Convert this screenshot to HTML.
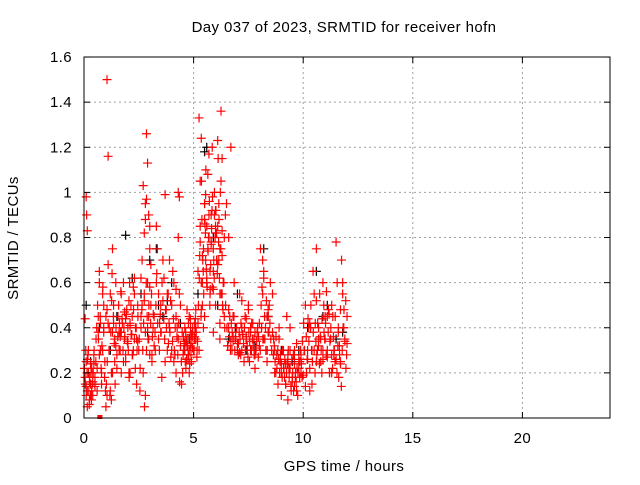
<!DOCTYPE html>
<html><head><meta charset="utf-8"><style>
body{margin:0;background:#fff}
svg text{font-family:"Liberation Sans",sans-serif;font-size:15px;letter-spacing:0.4px;fill:#000}
</style></head><body>
<svg id="chart" width="640" height="480" xmlns="http://www.w3.org/2000/svg">
<rect width="640" height="480" fill="#fff"/>
<g id="grid"></g>
<g id="pts"></g>
<rect x="84" y="57" width="526" height="361" fill="none" stroke="#000" stroke-width="1"/>
<g id="ticks"></g>
<text x="344" y="32" text-anchor="middle">Day 037 of 2023, SRMTID for receiver hofn</text>
<text x="344" y="471" text-anchor="middle">GPS time / hours</text>
<text transform="translate(18,238) rotate(-90)" text-anchor="middle">SRMTID / TECUs</text>
</svg>
<script>
const xTicks=[0,5,10,15,20];
const yTicks=[0,0.2,0.4,0.6,0.8,1,1.2,1.4,1.6];
const yTickLabels=["0","0.2","0.4","0.6","0.8","1","1.2","1.4","1.6"];
const redTimes=[0.05,0.1,0.12,0.15,0.2,0.25,0.3,0.35,0.4,0.45,0.5,0.1,0.2,0.3,0.4,0.15,0.25,0.35,0.45,0.05,0.1,0.15,0.55,0.6,0.65,0.7,0.75,0.8,0.85,0.9,0.95,0.6,0.7,0.8,0.9,0.65,0.75,0.85,
1.0,1.05,1.1,1.15,1.2,1.25,1.3,1.35,1.4,1.45,1.05,1.05,1.1,1.2,1.3,1.4,1.0,1.15,1.25,1.35,1.45,1.5,1.55,1.6,1.65,1.7,1.75,1.8,1.85,1.9,1.95,2.0,2.05,2.1,2.15,2.2,2.25,2.3,2.35,2.4,2.45,1.6,1.7,1.8,1.9,2.0,2.1,2.2,2.3,2.4,1.65,1.85,2.05,2.25,2.45,
2.5,2.55,2.6,2.65,2.7,2.75,2.8,2.85,2.9,2.95,3.0,3.05,3.1,3.15,2.6,2.7,2.8,2.85,2.9,2.95,3.0,2.75,2.85,2.95,3.05,2.8,2.9,3.0,3.1,2.65,2.75,
3.2,3.3,3.4,3.5,3.6,3.7,3.8,3.9,4.0,4.1,4.2,4.3,4.4,4.5,3.25,3.35,3.45,3.55,3.65,3.75,3.85,3.95,4.05,4.15,4.25,4.35,4.45,3.3,3.5,3.7,3.9,4.1,4.3,4.3,4.35,4.2,
4.55,4.6,4.65,4.7,4.75,4.8,4.85,4.9,4.95,5.0,5.05,5.1,5.15,4.6,4.7,4.8,4.9,5.0,5.1,4.65,4.75,4.85,4.95,5.05,
5.2,5.25,5.3,5.35,5.4,5.45,5.5,5.55,5.6,5.65,5.7,5.75,5.8,5.85,5.9,5.95,6.0,6.05,6.1,6.15,6.2,6.25,6.3,6.35,6.4,6.45,5.3,5.4,5.5,5.6,5.7,5.8,5.9,6.0,6.1,6.2,6.3,5.35,5.45,5.55,5.65,5.75,5.85,5.95,6.05,6.15,6.25,5.4,5.6,5.8,6.0,6.2,5.5,5.9,6.3,6.2,5.25,5.35,
6.5,6.6,6.7,6.8,6.9,7.0,7.1,7.2,7.3,7.4,7.5,7.6,7.7,7.8,7.9,6.55,6.65,6.75,6.85,6.95,7.05,7.15,7.25,7.35,7.45,7.55,7.65,7.75,7.85,7.95,6.6,6.8,7.0,7.2,7.4,7.6,7.8,6.7,7.1,7.5,
8.0,8.1,8.2,8.3,8.4,8.5,8.05,8.15,8.25,8.35,8.45,8.1,8.2,8.3,8.4,8.15,8.35,
8.6,8.7,8.8,8.9,9.0,9.1,9.2,9.3,9.4,9.5,9.6,9.7,9.8,9.9,8.65,8.75,8.85,8.95,9.05,9.15,9.25,9.35,9.45,9.55,9.65,9.75,9.85,9.95,8.7,8.9,9.1,9.3,9.5,9.7,9.9,9.2,9.6,9.4,
10.0,10.1,10.2,10.3,10.4,10.5,10.6,10.7,10.8,10.9,11.0,11.1,11.2,11.3,11.4,11.5,11.6,11.7,11.8,11.9,12.0,10.05,10.15,10.25,10.35,10.45,10.55,10.65,10.75,10.85,10.95,11.05,11.15,11.25,11.35,11.45,11.55,11.65,11.75,11.85,11.95,10.2,10.4,10.6,10.8,11.0,11.2,11.4,11.6,11.8,12.0,10.3,10.6,10.9,11.3,11.7,10.7,11.1];
const redValues=[0.18,0.25,0.9,0.12,0.2,0.08,0.15,0.22,0.1,0.28,0.18,0.14,0.3,0.1,0.2,0.05,0.16,0.12,0.24,0.44,0.98,0.83,0.35,0.12,0.45,0.6,0.3,0.2,0.55,0.4,0.25,0.22,0.65,0.15,0.5,0.38,0.42,0.3,
0.05,1.5,1.16,0.3,0.55,0.2,0.75,0.42,0.35,0.6,0.1,0.48,0.68,0.12,0.38,0.25,0.45,0.4,0.08,0.5,0.32,0.22,0.45,0.38,0.3,0.55,0.42,0.6,0.35,0.28,0.48,0.4,0.52,0.2,0.37,0.45,0.3,0.62,0.4,0.15,0.5,0.3,0.38,0.25,0.44,0.33,0.41,0.28,0.55,0.35,0.36,0.47,0.2,0.58,0.34,
0.3,0.12,0.45,0.7,0.2,0.55,0.95,1.26,0.6,0.35,0.85,0.5,0.25,0.4,0.62,1.03,0.88,0.97,1.13,0.45,0.75,0.52,0.3,0.9,0.68,0.1,0.4,0.58,0.28,0.5,0.82,
0.45,0.6,0.35,0.5,0.7,0.25,0.55,0.4,0.3,0.6,0.45,0.35,0.5,0.2,0.3,0.75,0.42,0.18,0.62,0.48,0.33,0.52,0.65,0.28,0.4,0.55,0.15,0.85,0.38,0.99,0.7,0.25,0.8,1.0,0.98,0.57,
0.3,0.4,0.22,0.35,0.28,0.45,0.32,0.25,0.38,0.3,0.42,0.35,0.27,0.33,0.48,0.2,0.37,0.3,0.4,0.34,0.26,0.44,0.31,0.36,
0.65,1.33,0.85,1.24,0.5,0.75,0.95,0.7,0.6,1.08,0.8,0.55,0.9,1.2,0.65,1.0,0.85,0.7,1.23,0.95,0.75,1.36,1.15,0.6,0.8,0.9,1.05,0.72,0.88,0.62,1.17,0.78,0.57,0.92,0.68,0.55,0.83,0.48,0.4,0.99,0.75,0.65,0.58,0.9,0.82,0.7,1.05,0.6,0.85,0.77,0.5,0.35,0.45,0.38,0.55,0.42,0.3,0.6,0.95,0.8,1.2,
0.45,0.35,0.3,0.55,0.4,0.25,0.35,0.5,0.3,0.42,0.28,0.38,0.32,0.45,0.3,0.6,0.4,0.33,0.28,0.37,0.45,0.3,0.25,0.42,0.35,0.31,0.27,0.4,0.36,0.3,0.52,0.44,0.38,0.22,0.34,0.29,0.48,0.32,0.4,0.35,
0.3,0.45,0.6,0.75,0.55,0.35,0.25,0.5,0.4,0.65,0.3,0.38,0.7,0.45,0.55,0.2,0.28,
0.35,0.2,0.3,0.15,0.25,0.4,0.18,0.3,0.12,0.22,0.28,0.35,0.2,0.15,0.25,0.3,0.18,0.45,0.22,0.12,0.28,0.2,0.1,0.25,0.18,0.3,0.4,0.22,0.28,0.16,0.33,0.2,0.24,0.14,0.3,0.19,0.14,0.26,0.12,
0.3,0.55,0.75,0.4,0.25,0.6,0.35,0.45,0.2,0.5,0.3,0.78,0.4,0.25,0.55,0.35,0.45,0.3,0.2,0.4,0.5,0.65,0.42,0.3,0.55,0.2,0.38,0.28,0.48,0.35,0.45,0.25,0.6,0.32,0.7,0.4,0.22,0.3,0.15,0.52,0.35,0.45,0.2,0.28,0.38,0.6,0.33,0.42,0.25,0.3,0.2,0.48,0.35,0.27,0.45,0.4,0.38];
const redTimesB=[0.02,0.06,0.1,0.14,0.18,0.22,0.26,0.3,0.34,0.38,0.42,0.46,0.5,0.54,0.58,0.62,0.66,0.7,0.74,0.78,0.82,0.86,0.9,0.94,0.98,0.08,0.16,0.24,0.32,0.4,
1.02,1.06,1.1,1.14,1.18,1.22,1.26,1.3,1.34,1.38,1.42,1.46,1.5,1.54,1.58,1.62,1.66,1.7,1.74,1.78,1.82,1.86,1.9,1.94,1.98,2.02,2.06,2.1,2.14,2.18,2.22,2.26,2.3,2.34,2.38,2.42,2.46,1.28,1.68,2.08,
2.52,2.56,2.6,2.64,2.68,2.72,2.76,2.8,2.84,2.88,2.92,2.96,3.0,3.04,3.08,3.12,3.16,3.2,3.24,3.28,3.32,3.36,3.4,3.44,3.48,3.52,3.56,3.6,3.64,3.68,3.72,3.76,3.8,3.84,3.88,3.92,3.96,4.0,4.04,4.08,4.12,4.16,4.2,4.24,4.28,4.32,4.36,4.4,4.44,4.48,
4.52,4.56,4.6,4.64,4.68,4.72,4.76,4.8,4.84,4.88,4.92,4.96,5.0,5.04,5.08,5.12,5.16,5.2,4.54,4.62,4.7,4.78,4.86,4.94,5.02,5.1,5.18,4.58,4.82,5.06,
5.22,5.26,5.3,5.34,5.38,5.42,5.46,5.5,5.54,5.58,5.62,5.66,5.7,5.74,5.78,5.82,5.86,5.9,5.94,5.98,6.02,6.06,6.1,6.14,6.18,6.22,6.26,6.3,6.34,6.38,6.42,6.46,5.28,5.36,5.44,5.52,5.6,5.68,5.76,5.84,5.92,6.0,6.08,6.16,6.24,6.32,6.4,5.56,5.72,6.12];
const redValuesB=[0.22,0.15,0.1,0.2,0.28,0.12,0.18,0.24,0.08,0.15,0.2,0.3,0.14,0.25,0.4,0.5,0.35,0.28,0.45,0.22,0.32,0.58,0.38,0.18,0.12,0.3,0.26,0.06,0.2,0.16,
0.15,0.25,0.42,0.3,0.1,0.38,0.52,0.2,0.45,0.33,0.15,0.4,0.28,0.36,0.5,0.42,0.38,0.2,0.44,0.3,0.4,0.36,0.25,0.46,0.34,0.3,0.18,0.42,0.5,0.37,0.28,0.48,0.35,0.22,0.4,0.3,0.45,0.64,0.56,0.6,
0.35,0.22,0.4,0.48,0.3,0.42,0.05,0.38,0.6,0.45,0.35,0.5,0.28,0.42,0.55,0.36,0.46,0.32,0.38,0.5,0.64,0.42,0.55,0.3,0.46,0.38,0.6,0.52,0.44,0.35,0.48,0.4,0.3,0.55,0.42,0.38,0.27,0.5,0.34,0.44,0.3,0.4,0.2,0.36,0.28,0.42,0.16,0.32,0.25,0.38,
0.28,0.34,0.3,0.38,0.26,0.32,0.42,0.3,0.36,0.28,0.33,0.4,0.3,0.35,0.44,0.38,0.3,0.42,0.36,0.25,0.32,0.28,0.4,0.36,0.3,0.48,0.34,0.3,0.24,0.4,
0.5,0.62,0.78,0.45,0.88,0.7,0.55,0.95,0.82,0.66,0.58,0.74,0.9,0.5,0.68,0.84,0.98,0.75,0.62,0.8,0.92,0.7,0.85,0.78,0.62,1.0,0.55,0.72,0.48,0.6,0.4,0.5,0.72,1.05,0.65,0.86,0.6,0.8,0.57,0.92,0.7,0.82,0.64,0.88,0.75,0.5,0.45,1.1,0.96,1.15];
const redTimesC=[6.52,6.56,6.6,6.64,6.68,6.72,6.76,6.8,6.84,6.88,6.92,6.96,7.0,7.04,7.08,7.12,7.16,7.2,7.24,7.28,7.32,7.36,7.4,7.44,7.48,7.52,7.56,7.6,7.64,7.68,7.72,7.76,7.8,7.84,7.88,7.92,7.96,8.0,8.04,8.08,8.12,8.16,8.2,8.24,8.28,8.32,8.36,8.4,8.44,8.48,
8.52,8.56,8.6,8.64,8.68,8.72,8.76,8.8,8.84,8.88,8.92,8.96,9.0,9.04,9.08,9.12,9.16,9.2,9.24,9.28,9.32,9.36,9.4,9.44,9.48,9.52,9.56,9.6,9.64,9.68,9.72,9.76,9.8,9.84,9.88,9.92,9.96,9.0,9.3,9.6,
10.02,10.06,10.1,10.14,10.18,10.22,10.26,10.3,10.34,10.38,10.42,10.46,10.5,10.54,10.58,10.62,10.66,10.7,10.74,10.78,10.82,10.86,10.9,10.94,10.98,11.02,11.06,11.1,11.14,11.18,11.22,11.26,11.3,11.34,11.38,11.42,11.46,11.5,11.54,11.58,11.62,11.66,11.7,11.74,11.78,11.82,11.86,11.9,11.94,11.98];
const redValuesC=[0.4,0.32,0.48,0.36,0.3,0.42,0.38,0.34,0.45,0.3,0.36,0.4,0.33,0.28,0.38,0.35,0.42,0.3,0.37,0.33,0.4,0.3,0.36,0.32,0.27,0.38,0.34,0.4,0.3,0.35,0.32,0.28,0.38,0.3,0.34,0.4,0.36,0.42,0.3,0.5,0.58,0.35,0.62,0.45,0.4,0.52,0.3,0.48,0.38,0.42,
0.35,0.3,0.38,0.28,0.32,0.25,0.36,0.22,0.3,0.26,0.2,0.28,0.24,0.18,0.3,0.22,0.26,0.15,0.2,0.24,0.3,0.18,0.22,0.14,0.26,0.2,0.12,0.24,0.18,0.16,0.22,0.2,0.26,0.18,0.3,0.24,0.34,0.1,0.08,0.28,
0.42,0.3,0.5,0.36,0.26,0.44,0.34,0.22,0.4,0.3,0.25,0.38,0.3,0.2,0.34,0.28,0.42,0.32,0.24,0.36,0.3,0.44,0.26,0.5,0.35,0.42,0.56,0.3,0.38,0.46,0.34,0.4,0.28,0.22,0.36,0.3,0.45,0.26,0.2,0.32,0.18,0.28,0.24,0.14,0.3,0.4,0.48,0.34,0.52,0.28];
const blackTimes=[0.1,0.3,0.7,1.2,1.9,2.6,3.0,3.3,3.6,4.0,4.8,5.5,5.6,5.9,6.1,6.6,7.0,7.4,8.2,8.4,9.0,9.5,10.2,10.6,11.1,11.5,0.5,2.2,3.4,7.8,1.5,2.9,4.4,5.2,6.9,8.8,9.8,10.9,11.8,3.8];
const blackValues=[0.5,0.25,0.4,0.3,0.81,0.55,0.7,0.75,0.45,0.6,0.35,1.18,1.2,0.8,0.5,0.35,0.55,0.3,0.75,0.45,0.3,0.25,0.4,0.65,0.5,0.35,0.15,0.62,0.5,0.32,0.45,0.38,0.42,0.55,0.4,0.28,0.3,0.45,0.38,0.52];
const NS="http://www.w3.org/2000/svg";
const X=v=>84+v*21.92, Y=v=>418-v*225.6;
const grid=document.getElementById('grid'),ticks=document.getElementById('ticks'),pts=document.getElementById('pts');
function mk(tag,at,par){const e=document.createElementNS(NS,tag);for(const k in at)e.setAttribute(k,at[k]);par.appendChild(e);return e;}
xTicks.forEach(t=>{const x=X(t);
 if(t>0){const g=mk('line',{x1:x,x2:x,y1:57,y2:418,stroke:'#a0a0a0','stroke-dasharray':'2,3'},grid);
 
 }
 mk('line',{x1:x,x2:x,y1:418,y2:412,stroke:'#000'},ticks);mk('line',{x1:x,x2:x,y1:57,y2:63,stroke:'#000'},ticks);
 const l=mk('text',{x:x,y:443,'text-anchor':'middle'},ticks);l.textContent=t;
 
 });
yTicks.forEach((t,i)=>{const y=Y(t);
 if(t>0&&t<1.6){const g=mk('line',{x1:84,x2:610,y1:y,y2:y,stroke:'#a0a0a0','stroke-dasharray':'2,3'},grid);
 
 }
 mk('line',{x1:84,x2:90,y1:y,y2:y,stroke:'#000'},ticks);mk('line',{x1:604,x2:610,y1:y,y2:y,stroke:'#000'},ticks);
 const l=mk('text',{x:72,y:y+5,'text-anchor':'end'},ticks);l.textContent=yTickLabels[i];
 
 });
function plus(t,v,c){const x=X(t),y=Y(v);
 const p=mk('path',{d:`M${x-4.5},${y}h9M${x},${y-4.5}v9`,stroke:c,'stroke-width':1.2},pts);
 
 }
blackTimes.forEach((t,i)=>plus(t,blackValues[i],'#000'));
redTimes.forEach((t,i)=>plus(t,redValues[i],'#f00'));
redTimesB.forEach((t,i)=>plus(t,redValuesB[i],'#f00'));
redTimesC.forEach((t,i)=>plus(t,redValuesC[i],'#f00'));
const m=mk('rect',{x:X(0.7)-2,y:415,width:5,height:4,fill:'#f00'},pts);


</script>
</body></html>
